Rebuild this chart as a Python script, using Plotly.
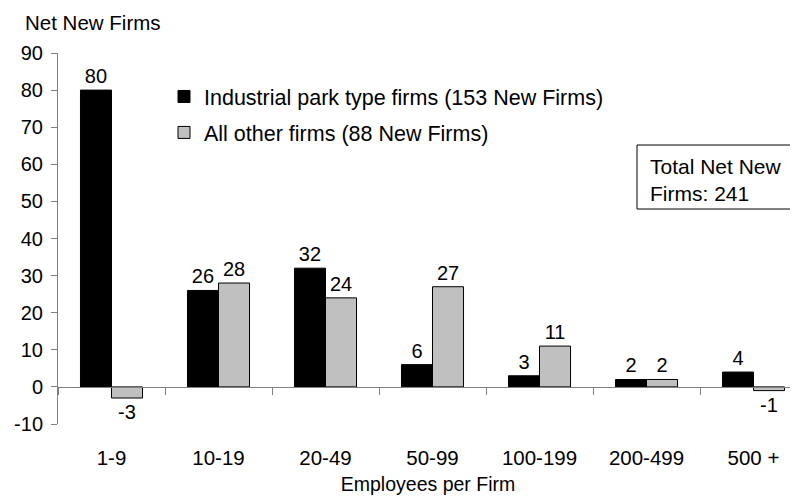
import plotly.graph_objects as go

categories = ["1-9", "10-19", "20-49", "50-99", "100-199", "200-499", "500 +"]
industrial = [80, 26, 32, 6, 3, 2, 4]
other = [-3, 28, 24, 27, 11, 2, -1]
y_ticks = [-10, 0, 10, 20, 30, 40, 50, 60, 70, 80, 90]

FONT = "Liberation Sans, Arial, sans-serif"
# page body has an 8px default margin, so the figure is drawn 8px in from the window edge
W, H = 790, 490
ML, MR, MT, MB = 50, 0, 45, 74
PW = W - ML - MR
PH = H - MT - MB


def px(xfig):
    return (xfig - ML) / PW


def py(yfig):
    return 1 - (yfig - MT) / PH


fig = go.Figure()
fig.add_trace(go.Bar(
    x=categories, y=industrial, name="Industrial park type firms (153 New Firms)",
    marker=dict(color="#000000", line=dict(color="#000000", width=1)),
    text=[str(v) for v in industrial], textposition="outside",
    textfont=dict(size=20, color="#000000", family=FONT), cliponaxis=False,
    legendgroup="a",
))
fig.add_trace(go.Bar(
    x=categories, y=other, name="All other firms (88 New Firms)",
    marker=dict(color="#c0c0c0", line=dict(color="#000000", width=1)),
    text=[str(v) for v in other], textposition="outside",
    textfont=dict(size=20, color="#000000", family=FONT), cliponaxis=False,
    legendgroup="b",
))
# invisible helper trace for the category axis that crosses at zero
fig.add_trace(go.Scatter(
    x=categories, y=[0] * len(categories), xaxis="x2", mode="markers",
    marker=dict(size=1, opacity=0), showlegend=False, hoverinfo="skip",
))

xr = [-0.5, -0.5 + PW / 107.0]
fig.update_layout(
    width=W, height=H,
    margin=dict(l=ML, r=MR, t=MT, b=MB, autoexpand=False),
    plot_bgcolor="white", paper_bgcolor="white",
    font=dict(family=FONT, size=20, color="#000000"),
    barmode="group", bargap=0.42, bargroupgap=0,
    showlegend=True,
    legend=dict(x=px(156), y=py(68), xanchor="left", yanchor="top",
                bgcolor="rgba(0,0,0,0)", font=dict(size=21.5, family=FONT),
                tracegroupgap=5, traceorder="grouped"),
    xaxis=dict(range=xr, type="category", categoryarray=categories,
               showline=False, showgrid=False, zeroline=False, automargin=False,
               ticks="outside", ticklen=15, tickcolor="rgba(0,0,0,0)",
               tickfont=dict(size=20.5, family=FONT),
               title=dict(text="Employees per Firm", font=dict(size=19.5, family=FONT), standoff=9)),
    xaxis2=dict(range=xr, type="category", categoryarray=categories, overlaying="x",
                anchor="free", position=0.1, showline=True, linecolor="#808080", linewidth=1,
                ticks="outside", tickson="boundaries", ticklen=7, tickcolor="#808080",
                showticklabels=False, showgrid=False, zeroline=False, automargin=False),
    yaxis=dict(range=[-10, 90], tickvals=y_ticks, ticktext=[str(v) for v in y_ticks],
               showgrid=False, zeroline=False,
               showline=True, linecolor="#808080", linewidth=1, automargin=False,
               ticks="outside", ticklen=6, tickcolor="#808080",
               ticklabelstandoff=4, tickfont=dict(size=20, family=FONT)),
    shapes=[
        dict(type="rect", xref="paper", yref="paper",
             x0=px(629), x1=px(790), y0=py(201), y1=py(137),
             line=dict(color="#000000", width=1), fillcolor="white", layer="above"),
    ],
    annotations=[
        dict(text="Net New Firms", xref="paper", yref="paper",
             x=px(15), y=py(15), xanchor="left", yanchor="middle",
             showarrow=False, font=dict(size=20.5, family=FONT)),
        dict(text="Total Net New<br>Firms: 241", xref="paper", yref="paper",
             x=px(641), y=py(171.5), xanchor="left", yanchor="middle",
             showarrow=False, align="left", borderpad=0,
             font=dict(size=21, family=FONT)),
    ],
)

fig.write_html("out.html")
